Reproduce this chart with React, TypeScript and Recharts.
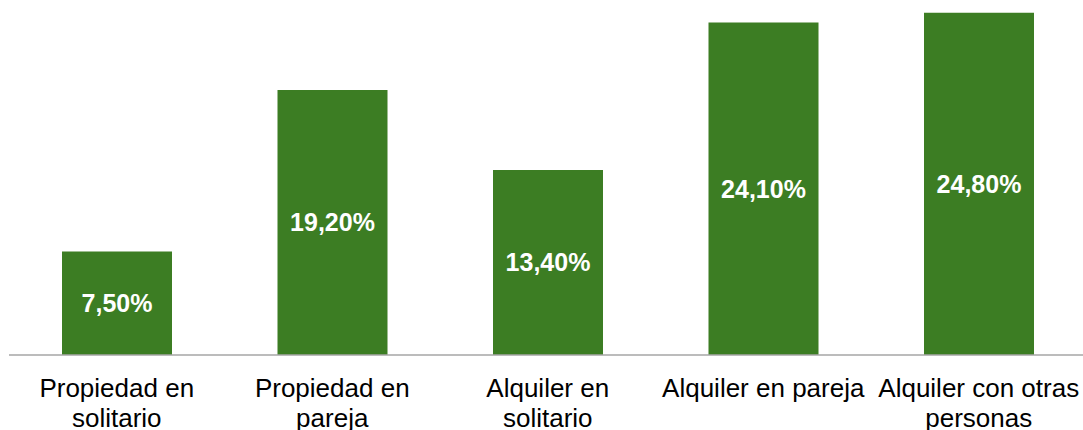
import React from 'react';
import { BarChart, Bar, XAxis, YAxis, LabelList } from 'recharts';

const categories = [
  'Propiedad en solitario',
  'Propiedad en pareja',
  'Alquiler en solitario',
  'Alquiler en pareja',
  'Alquiler con otras personas',
];
const values = [7.5, 19.2, 13.4, 24.1, 24.8];
const tickLabels = [
  ['Propiedad en', 'solitario'],
  ['Propiedad en', 'pareja'],
  ['Alquiler en', 'solitario'],
  ['Alquiler en pareja'],
  ['Alquiler con otras', 'personas'],
];

const FONT = '"Liberation Sans", Arial, sans-serif';

const rows = categories.map((name, i) => ({ name, value: values[i], idx: i }));

const CategoryTick: React.FC<any> = ({ x, y, index }) => {
  const lines = tickLabels[index] || [];
  return (
    <text x={x} y={y + 42} textAnchor="middle" fill="#000" fontSize={26} fontFamily={FONT}>
      {lines.map((l, i) => (
        <tspan key={i} x={x} dy={i === 0 ? 0 : 30}>{l}</tspan>
      ))}
    </text>
  );
};

const fmt = (v: any) => `${Number(v).toFixed(2).replace('.', ',')}%`;

export default function App() {
  return (
    <div style={{ position: 'absolute', left: 0, top: 0, width: 1083, height: 430, overflow: 'hidden', background: '#fff' }}>
      <BarChart width={1090} height={430} data={rows} margin={{ top: 10, right: 3.5, left: 9, bottom: 0 }} barCategoryGap={0}>
        <XAxis
          dataKey="name"
          height={75}
          interval={0}
          tickLine={false}
          tickSize={0}
          tickMargin={0}
          axisLine={{ stroke: '#a6a6a6', strokeWidth: 1.5 }}
          tick={<CategoryTick />}
        />
        <YAxis hide domain={[0, 25]} allowDataOverflow={false} />
        <Bar dataKey="value" fill="#3c7d23" barSize={110} isAnimationActive={false}>
          <LabelList
            dataKey="value"
            position="center"
            formatter={fmt}
            fill="#ffffff"
            fontSize={25}
            fontWeight="bold"
            fontFamily={FONT}
          />
        </Bar>
      </BarChart>
    </div>
  );
}
